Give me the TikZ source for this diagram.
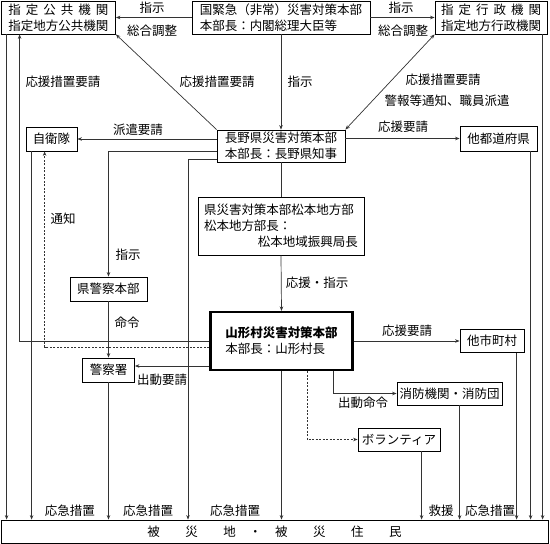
\documentclass[tikz,border=0pt]{standalone}
\usepackage{fontspec}
\setmainfont{Noto Sans CJK JP}
\usetikzlibrary{arrows.meta}
\newcommand\dfont{\fontsize{12.5}{16}\selectfont}
\begin{document}
\begin{tikzpicture}[x=1pt,y=-1pt,
  every node/.style={font=\dfont},
  box/.style={draw=black, line width=0.8pt, inner sep=0pt, align=center},
  thickbox/.style={box, line width=2.2pt},
  conn/.style={line width=0.7pt, draw=black!80},
  arr/.style={conn, -{Stealth[length=4.5pt,width=3.5pt]}},
  arrboth/.style={conn, {Stealth[length=4.5pt,width=3.5pt]}-{Stealth[length=4.5pt,width=3.5pt]}},
  darr/.style={arr, dash pattern=on 2pt off 1.5pt},
  lbl/.style={inner sep=0pt}]
\useasboundingbox (0,0) rectangle (550,544);

% boxes
\node[box, minimum width=114pt, minimum height=33pt] (pub) at (58.5,17.5)
  {\makebox[100pt]{指\hfill 定\hfill 公\hfill 共\hfill 機\hfill 関}\\指定地方公共機関};
\node[box, minimum width=178pt, minimum height=33pt, align=left] (kuni) at (281,17.5)
  {国緊急（非常）災害対策本部\\本部長：内閣総理大臣等};
\node[box, minimum width=112pt, minimum height=33pt] (gyosei) at (491,17.5)
  {\makebox[100pt]{指\hfill 定\hfill 行\hfill 政\hfill 機\hfill 関}\\指定地方行政機関};
\node[box, minimum width=51pt, minimum height=24pt] (jieitai) at (51.5,139) {自衛隊};
\node[box, minimum width=128pt, minimum height=32pt, align=left] (nagano) at (281,146)
  {長野県災害対策本部\\本部長：長野県知事};
\node[box, minimum width=77pt, minimum height=25pt] (todofuken) at (498.5,138.5) {他都道府県};
\node[box, minimum width=166pt, minimum height=58pt, text width=154pt, align=left] (matsumoto) at (281,226)
  {県災害対策本部松本地方部\\松本地方部長：\\\hspace*{\fill}松本地域振興局長};
\node[box, minimum width=77pt, minimum height=24pt] (kenkei) at (108.5,289) {県警察本部};
\node[thickbox, minimum width=142pt, minimum height=58pt, align=left] (yamagata) at (281.5,341)
  {\bfseries 山形村災害対策本部\\本部長：山形村長};
\node[box, minimum width=52pt, minimum height=24pt] (keisatsusho) at (108.5,370) {警察署};
\node[box, minimum width=64pt, minimum height=23pt] (tashi) at (492,341) {他市町村};
\node[box, minimum width=105pt, minimum height=23pt] (shobo) at (449.5,393.5) {消防機関・消防団};
\node[box, minimum width=82pt, minimum height=23pt] (vol) at (399,439.5) {ボランティア};
\node[box, minimum width=547pt, minimum height=23pt] (bottom) at (274.5,531.5)
  {被\hspace{25.5pt}災\hspace{25.5pt}地\hspace{13.5pt}・\hspace{13.5pt}被\hspace{25.5pt}災\hspace{25.5pt}住\hspace{25.5pt}民};

% helper coordinates
\coordinate (n1) at ([yshift=-5pt]nagano.west);
\coordinate (n2) at ([yshift=-13pt]nagano.west);
\coordinate (c188) at (188,0);
\coordinate (p7) at ([xshift=5.5pt]pub.south west);
\coordinate (p20) at ([xshift=18.5pt]pub.south west);
\coordinate (j32) at ([xshift=6pt]jieitai.south west);
\coordinate (j45) at ([xshift=19pt]jieitai.south west);
\coordinate (y347) at ([yshift=-6pt]yamagata.west);
\coordinate (y366) at ([yshift=-25pt]yamagata.west);
\coordinate (y307) at ([xshift=25.5pt]yamagata.south);
\coordinate (y333) at ([xshift=51.5pt]yamagata.south);
\coordinate (v422) at ([xshift=64pt]vol.south west);
\coordinate (s460) at ([xshift=63pt]shobo.south west);
\coordinate (t517) at ([xshift=57pt]tashi.south west);
\coordinate (f531) at ([xshift=71pt]todofuken.south west);
\coordinate (g543) at ([xshift=108pt]gyosei.south west);

% connectors
\draw[arr] (kuni.west) -- (pub.east);
\draw[arr] (kuni.east) -- (gyosei.west);
\draw[arr] (kuni.south) -- (nagano.north);
\draw[arr] (nagano.north west) -- (pub.south east);
\draw[arrboth] (nagano.north east) -- (gyosei.south west);
\draw[arr] (jieitai.east -| nagano.west) -- (jieitai.east);
\draw[arr] (todofuken.west -| nagano.east) -- (todofuken.west);
\draw[arr] (n1) -| (kenkei.north);
\draw[arr] (n2) -| (c188 |- bottom.north);
\draw[conn] (nagano.south) -- (matsumoto.north);
\draw[arr] (matsumoto.south) -- (yamagata.north);
\draw[arr] (yamagata.south) -- (yamagata.south |- bottom.north);
\draw[arr] (kenkei.south) -- (keisatsusho.north);
\draw[arr] (keisatsusho.south) -- (keisatsusho.south |- bottom.north);
\draw[arr] (p7) -- (p7 |- bottom.north);
\draw[arr] (yamagata.west) -| (p20);
\draw[arr] (j32) -- (j32 |- bottom.north);
\draw[darr] (y347) -| (j45);
\draw[arr] (y366) -- (y366 -| keisatsusho.east);
\draw[arr] (yamagata.east) -- (tashi.west);
\draw[arr] (y333) |- (shobo.west);
\draw[darr] (y307) |- (vol.west);
\draw[arr] (v422) -- (v422 |- bottom.north);
\draw[arr] (s460) -- (s460 |- bottom.north);
\draw[arr] (t517) -- (t517 |- bottom.north);
\draw[arr] (f531) -- (f531 |- bottom.north);
\draw[arr] (g543) -- (g543 |- bottom.north);

% labels
\node[lbl] (l1) at (152,8) {指示};
\node[lbl] (l2) at (152,31) {総合調整};
\node[lbl] (l3) at (401,8) {指示};
\node[lbl] (l4) at (403,31) {総合調整};
\node[lbl] (l5) at (63,82) {応援措置要請};
\node[lbl] (l6) at (217,82) {応援措置要請};
\node[lbl] (l7) at (300,82) {指示};
\node[lbl] (l8) at (443,80) {応援措置要請};
\node[lbl] (l9) at (447,101) {警報等通知、職員派遣};
\node[lbl] (l10) at (138,130) {派遣要請};
\node[lbl] (l11) at (403,127) {応援要請};
\node[lbl] (l12) at (63,219) {通知};
\node[lbl] (l13) at (128,255) {指示};
\node[lbl] (l14) at (317,283) {応援・指示};
\node[lbl] (l15) at (127,323) {命令};
\node[lbl] (l16) at (162,380) {出動要請};
\node[lbl] (l17) at (407,331) {応援要請};
\node[lbl] (l18) at (363,403) {出動命令};
\node[lbl] (l19) at (70,511) {応急措置};
\node[lbl] (l20) at (148,511) {応急措置};
\node[lbl] (l21) at (235,511) {応急措置};
\node[lbl] (l22) at (441,511) {救援};
\node[lbl] (l23) at (490,511) {応急措置};
\end{tikzpicture}
\end{document}
